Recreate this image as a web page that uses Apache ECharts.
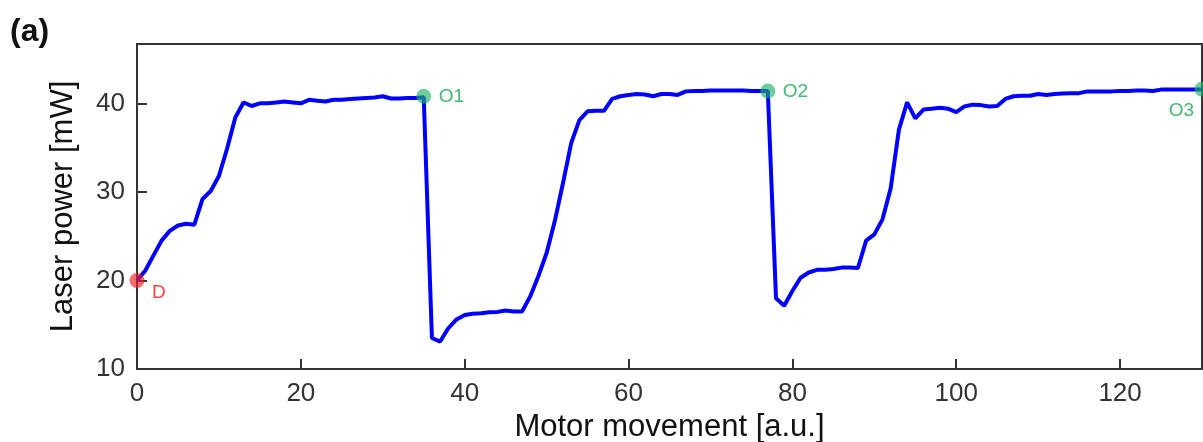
<!DOCTYPE html>
<html>
<head>
<meta charset="utf-8">
<script src="https://cdn.jsdelivr.net/npm/echarts@6/dist/echarts.min.js"></script>
<style>
html,body{margin:0;padding:0;background:#fff;overflow:hidden;}
#chart{width:1203px;height:442px;}
</style>
</head>
<body>
<div id="chart"></div>
<script>
// Motor movement positions (a.u.)
const motorX = [0,1,2,3,4,5,6,7,8,9,10,11,12,13,14,15,16,17,18,19,20,21,22,23,24,25,26,27,28,29,30,
31,32,33,34,35,36,37,38,39,40,41,42,43,44,45,46,47,48,49,50,51,52,53,54,55,56,57,58,59,60,
61,62,63,64,65,66,67,68,69,70,71,72,73,74,75,76,77,78,79,80,81,82,83,84,85,86,87,88,89,90,
91,92,93,94,95,96,97,98,99,100,101,102,103,104,105,106,107,108,109,110,111,112,113,114,115,116,117,118,119,120,
121,122,123,124,125,126,127,128,129,130];
// Laser power (mW)
const laserPower = [20.0,21.1,22.8,24.5,25.6,26.2,26.4,26.3,29.2,30.1,31.8,34.9,38.4,40.1,39.7,40.0,40.0,40.1,40.2,40.1,40.0,
40.4,40.3,40.2,40.4,40.4,40.5,40.55,40.6,40.65,40.8,
40.55,40.55,40.6,40.6,40.7,13.5,13.1,14.6,15.6,16.1,16.25,16.3,16.4,16.45,16.6,16.5,16.5,18.2,20.5,23.1,
26.7,31.0,35.5,38.1,39.1,39.15,39.15,40.5,40.8,40.95,
41.05,41.0,40.8,41.05,41.05,40.95,41.35,41.4,41.4,41.45,41.45,41.45,41.45,41.45,41.4,41.4,41.4,18.0,17.15,18.8,
20.3,20.9,21.2,21.2,21.3,21.45,21.45,21.4,24.5,25.2,
26.9,30.4,37.0,40.1,38.3,39.3,39.4,39.5,39.4,39.0,39.65,39.85,39.8,39.65,39.7,40.5,40.8,40.85,40.85,41.05,
40.95,41.05,41.1,41.15,41.15,41.35,41.35,41.35,41.35,41.4,
41.4,41.45,41.45,41.4,41.55,41.55,41.55,41.55,41.55,41.55];

// Marked points
const markNames = ['D','O1','O2','O3'];
const markX = [0, 35, 77, 130];
const markY = [20.0, 40.8, 41.4, 41.6];

// Axis ticks
const xTicks = [0,20,40,60,80,100,120];
const yTicks = [10,20,30,40];

const FONT = 'Liberation Sans, Arial, Helvetica, sans-serif';

const lineData = motorX.map((x, i) => [x, laserPower[i]]);

const markStyles = {
  D:  {color:'rgba(240,30,30,0.82)', text:'#ff1010', offset:[15,12], align:'left'},
  O1: {color:'rgba(30,175,100,0.8)', text:'#14a850', offset:[15,1], align:'left'},
  O2: {color:'rgba(30,175,100,0.8)', text:'#14a850', offset:[15,1], align:'left'},
  O3: {color:'rgba(30,175,100,0.8)', text:'#14a850', offset:[-8,22], align:'right'}
};

const markData = markNames.map((n, i) => {
  const s = markStyles[n];
  return {
    value: [markX[i], markY[i]],
    name: n,
    itemStyle: {color: s.color},
    label: {
      show: true, formatter: n, position: 'inside', offset: s.offset,
      align: s.align, verticalAlign: 'middle',
      color: s.text, fontSize: 19, fontFamily: FONT
    }
  };
});

const chart = echarts.init(document.getElementById('chart'), null, {renderer: 'canvas', width: 1203, height: 442});
chart.setOption({
  animation: false,
  backgroundColor: '#fff',
  grid: {left: 137, right: 1, top: 44, bottom: 73, show: true, borderColor: '#333', borderWidth: 2,
         containLabel: false, outerBoundsMode: 'none'},
  graphic: [{
    type: 'text', left: 10, top: 16,
    style: {text: '(a)', fontSize: 32, fontWeight: 'bold', fontFamily: FONT, fill: '#111'}
  }],
  xAxis: {
    type: 'value', min: xTicks[0], max: 130, interval: xTicks[1] - xTicks[0],
    name: 'Motor movement [a.u.]', nameLocation: 'middle', nameGap: 25,
    nameTextStyle: {fontSize: 31, fontFamily: FONT, color: '#111'},
    axisLine: {show: true, lineStyle: {color: '#333', width: 2}},
    axisTick: {show: true, inside: true, length: 10, lineStyle: {color: '#333', width: 2}},
    axisLabel: {fontSize: 26, fontFamily: FONT, color: '#333', margin: 12, showMaxLabel: false},
    splitLine: {show: false}
  },
  yAxis: {
    type: 'value', min: yTicks[0], max: 46.7, interval: yTicks[1] - yTicks[0],
    name: 'Laser power [mW]', nameLocation: 'middle', nameGap: 58, nameRotate: 90,
    nameTextStyle: {fontSize: 31, fontFamily: FONT, color: '#111'},
    axisLine: {show: true, lineStyle: {color: '#333', width: 2}},
    axisTick: {show: true, inside: true, length: 10, lineStyle: {color: '#333', width: 2}},
    axisLabel: {fontSize: 26, fontFamily: FONT, color: '#333', margin: 12, showMaxLabel: false},
    splitLine: {show: false}
  },
  series: [
    {
      type: 'line', data: lineData, showSymbol: false, symbol: 'none',
      lineStyle: {color: '#0000ff', width: 4}, z: 2, clip: true
    },
    {
      type: 'scatter', data: markData, symbolSize: 15, z: 3, clip: false
    }
  ]
});
</script>
</body>
</html>
